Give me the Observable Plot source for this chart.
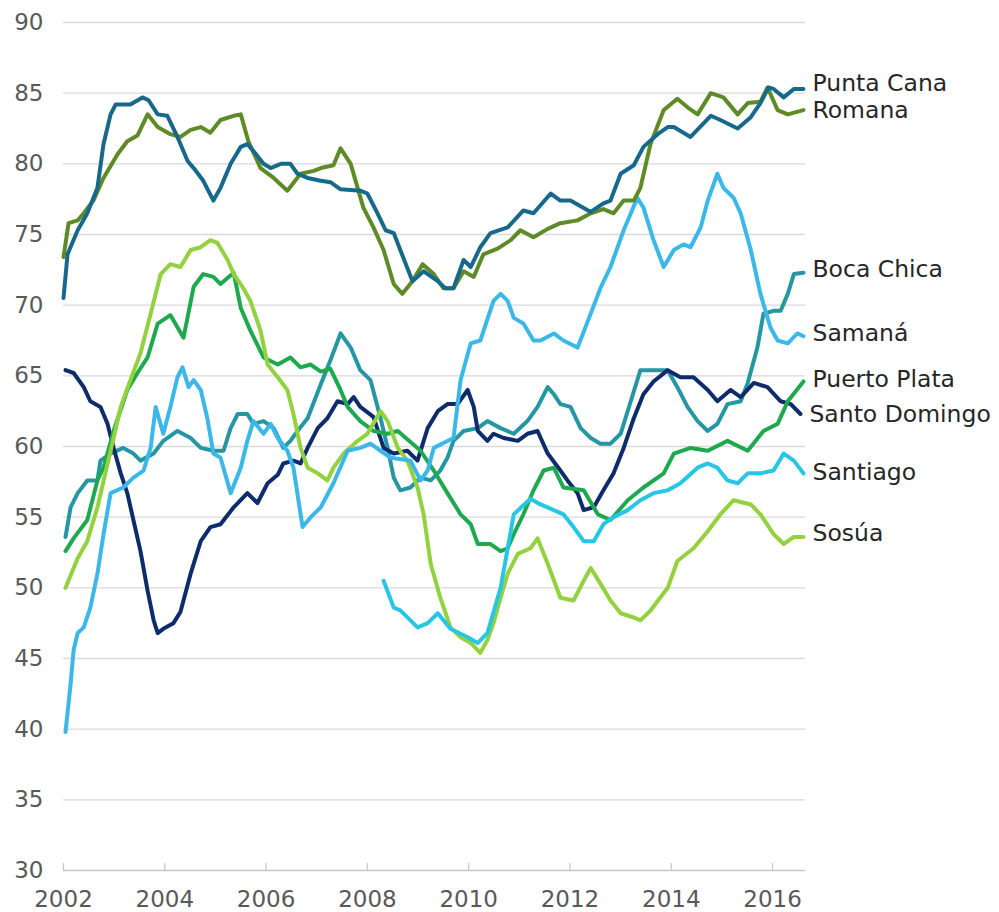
<!DOCTYPE html>
<html>
<head>
<meta charset="utf-8">
<script src="https://cdn.jsdelivr.net/npm/d3@7"></script>
<script src="https://cdn.jsdelivr.net/npm/@observablehq/plot@0.6"></script>
<style>
  html, body { margin: 0; padding: 0; background: #fff; }
  #chart svg { display: block; }
</style>
</head>
<body>
<div id="chart"></div>
<script>
// ---- Data (decimal year, value) ----
const seriesNames = ["Punta Cana","Romana","Boca Chica","Samaná","Puerto Plata","Santo Domingo","Santiago","Sosúa"];
const seriesColors = ["#17698c","#5e8b26","#2597a3","#3bb7ea","#1fa94f","#0e2c6b","#27c6e4","#93d13e"];

const puntaCanaT = [2002.0,2002.08,2002.28,2002.47,2002.67,2002.79,2002.93,2003.03,2003.32,2003.56,2003.68,2003.86,2004.05,2004.25,2004.45,2004.57,2004.76,2004.96,2005.1,2005.3,2005.5,2005.63,2005.75,2005.95,2006.09,2006.29,2006.48,2006.62,2006.82,2007.08,2007.27,2007.47,2007.86,2008.0,2008.2,2008.36,2008.52,2008.65,2008.89,2009.11,2009.39,2009.54,2009.7,2009.9,2010.04,2010.23,2010.43,2010.77,2011.08,2011.28,2011.62,2011.81,2012.01,2012.41,2012.66,2012.8,2013.0,2013.26,2013.45,2013.73,2013.93,2014.05,2014.38,2014.78,2014.97,2015.31,2015.57,2015.76,2015.92,2016.02,2016.22,2016.42,2016.61];
const puntaCanaV = [70.5,73.6,75.3,76.5,78.3,81.4,83.5,84.2,84.2,84.7,84.5,83.5,83.4,81.9,80.2,79.7,78.8,77.4,78.3,80,81.2,81.4,80.9,80,79.7,80,80,79.3,79,78.8,78.7,78.2,78.1,77.9,76.5,75.3,75.1,73.9,71.7,72.4,71.7,71.2,71.2,73.2,72.7,74.1,75.1,75.5,76.7,76.5,77.9,77.4,77.4,76.6,77.2,77.4,79.3,79.9,81.2,82.1,82.6,82.6,81.9,83.4,83.1,82.5,83.3,84.3,85.4,85.3,84.7,85.3,85.3];

const romanaT = [2002.0,2002.1,2002.28,2002.4,2002.59,2002.79,2003.07,2003.26,2003.46,2003.66,2003.86,2004.11,2004.31,2004.51,2004.71,2004.9,2005.1,2005.36,2005.5,2005.65,2005.89,2006.15,2006.42,2006.68,2006.94,2007.08,2007.33,2007.47,2007.67,2007.92,2008.12,2008.32,2008.52,2008.69,2008.89,2009.09,2009.31,2009.5,2009.7,2009.9,2010.1,2010.29,2010.57,2010.83,2011.02,2011.28,2011.56,2011.81,2012.15,2012.41,2012.66,2012.86,2013.06,2013.26,2013.39,2013.59,2013.85,2014.12,2014.32,2014.52,2014.78,2015.03,2015.31,2015.51,2015.76,2015.9,2016.1,2016.3,2016.61];
const romanaV = [73.4,75.8,76,76.5,77.4,79,80.7,81.6,82,83.5,82.6,82.1,81.9,82.4,82.6,82.2,83.1,83.4,83.5,81.6,79.7,79,78.1,79.3,79.5,79.7,79.9,81.1,80,76.9,75.5,73.9,71.5,70.8,71.7,72.9,72.2,71.2,71.2,72.4,72,73.6,74,74.6,75.3,74.8,75.4,75.8,76,76.5,76.8,76.5,77.4,77.4,78.3,81.4,83.8,84.6,84,83.5,85,84.7,83.5,84.3,84.4,85.4,83.8,83.5,83.8];

const bocaChicaT = [2002.04,2002.14,2002.28,2002.47,2002.67,2002.73,2002.93,2003.18,2003.38,2003.52,2003.78,2003.97,2004.25,2004.51,2004.71,2004.96,2005.16,2005.3,2005.44,2005.63,2005.75,2005.95,2006.15,2006.34,2006.48,2006.62,2006.82,2007.08,2007.27,2007.47,2007.67,2007.86,2008.06,2008.26,2008.4,2008.52,2008.65,2008.85,2009.05,2009.25,2009.44,2009.58,2009.7,2009.9,2010.18,2010.37,2010.63,2010.89,2011.16,2011.36,2011.56,2011.68,2011.81,2012.01,2012.21,2012.41,2012.6,2012.8,2013.0,2013.2,2013.39,2013.65,2013.93,2014.12,2014.32,2014.52,2014.72,2014.91,2015.11,2015.37,2015.51,2015.7,2015.82,2016.02,2016.16,2016.3,2016.42,2016.61];
const bocaChicaV = [53.6,55.7,56.7,57.6,57.6,59,59.5,59.9,59.5,59,59.5,60.4,61.1,60.6,59.9,59.7,59.7,61.3,62.3,62.3,61.6,61.8,61.3,59.9,60.4,61.1,62,64.4,66.1,68,67,65.4,64.7,62,59.9,57.8,56.9,57.1,57.8,57.6,58.3,59.2,60.4,61.1,61.3,61.8,61.3,60.9,61.8,62.8,64.2,63.7,63,62.8,61.3,60.6,60.2,60.2,60.9,63.2,65.4,65.4,65.4,64.2,62.8,61.8,61.1,61.6,63,63.2,64.5,67,69.4,69.6,69.6,70.8,72.2,72.3];

const samanaT = [2002.04,2002.14,2002.2,2002.28,2002.4,2002.53,2002.67,2002.79,2002.93,2003.18,2003.38,2003.58,2003.72,2003.82,2003.97,2004.11,2004.25,2004.35,2004.47,2004.57,2004.71,2004.84,2004.96,2005.1,2005.3,2005.5,2005.63,2005.75,2005.95,2006.09,2006.23,2006.42,2006.54,2006.72,2006.88,2007.08,2007.33,2007.61,2007.86,2008.06,2008.26,2008.46,2008.85,2009.05,2009.19,2009.31,2009.7,2009.84,2010.04,2010.23,2010.49,2010.63,2010.77,2010.89,2011.08,2011.28,2011.42,2011.68,2011.87,2012.15,2012.41,2012.6,2012.8,2013.06,2013.33,2013.45,2013.65,2013.85,2014.05,2014.24,2014.38,2014.58,2014.72,2014.91,2015.03,2015.23,2015.37,2015.57,2015.76,2015.96,2016.1,2016.3,2016.49,2016.61];
const samanaV = [39.8,43.2,45.6,46.8,47.2,48.6,51,53.8,56.7,57.1,57.8,58.3,59.9,62.8,60.9,62.8,64.9,65.6,64.2,64.7,64,62,59.5,59.2,56.7,58.5,60.4,61.8,60.9,61.6,60.6,59.7,58.5,54.3,55,55.7,57.4,59.7,59.9,60.2,59.7,59.2,59,57.6,58.3,59.9,60.6,64.7,67.3,67.5,70.3,70.8,70.3,69.1,68.7,67.5,67.5,68,67.5,67,69.4,71.2,72.7,75.3,77.6,76.9,74.6,72.7,73.9,74.3,74.1,75.5,77.4,79.3,78.3,77.6,76.5,73.9,70.8,68.4,67.5,67.3,68,67.8];

const puertoPlataT = [2002.04,2002.2,2002.47,2002.67,2002.79,2002.99,2003.26,2003.46,2003.66,2003.86,2004.11,2004.37,2004.57,2004.76,2004.96,2005.1,2005.36,2005.5,2005.69,2005.95,2006.23,2006.48,2006.68,2006.88,2007.08,2007.27,2007.47,2007.61,2007.86,2008.12,2008.4,2008.6,2009.05,2009.31,2009.58,2009.84,2010.04,2010.18,2010.43,2010.63,2010.77,2010.89,2011.08,2011.28,2011.48,2011.68,2011.87,2012.27,2012.55,2012.8,2013.14,2013.45,2013.85,2014.05,2014.38,2014.72,2015.11,2015.51,2015.82,2016.1,2016.3,2016.61];
const puertoPlataV = [52.6,53.5,54.8,57.6,58.5,61.1,64,65.2,66.3,68.7,69.3,67.7,71.3,72.2,72,71.5,72.3,69.8,68.2,66.3,65.8,66.3,65.6,65.8,65.3,65.5,64,62.8,61.8,61.1,60.9,61.1,59.7,58.3,56.7,55.2,54.5,53.1,53.1,52.6,52.8,53.8,55.2,56.9,58.3,58.5,57.1,56.9,55.2,54.8,56.2,57.1,58.1,59.5,59.9,59.7,60.4,59.7,61.1,61.6,63.2,64.6];

const santoDomingoT = [2002.04,2002.2,2002.4,2002.53,2002.73,2002.87,2002.99,2003.13,2003.26,2003.38,2003.52,2003.66,2003.78,2003.86,2003.97,2004.17,2004.31,2004.51,2004.71,2004.9,2005.1,2005.36,2005.63,2005.83,2006.03,2006.23,2006.34,2006.54,2006.68,2006.82,2007.02,2007.21,2007.41,2007.61,2007.73,2007.86,2008.12,2008.32,2008.52,2008.79,2008.99,2009.19,2009.39,2009.58,2009.78,2009.98,2010.1,2010.18,2010.37,2010.49,2010.69,2010.97,2011.16,2011.36,2011.56,2011.81,2011.95,2012.15,2012.27,2012.47,2012.66,2012.86,2013.06,2013.26,2013.45,2013.65,2013.93,2014.18,2014.44,2014.72,2014.91,2015.17,2015.37,2015.63,2015.9,2016.16,2016.36,2016.55];
const santoDomingoV = [65.4,65.2,64.2,63.2,62.8,61.6,59.9,58.1,56.7,54.8,52.6,49.8,47.7,46.8,47.1,47.5,48.3,51,53.3,54.3,54.5,55.7,56.7,56,57.4,58,58.8,59,58.8,59.9,61.3,62,63.2,63,63.5,62.8,62.1,59.9,59.5,59.7,59,61.3,62.5,63,63,64,62.8,61.1,60.4,60.9,60.6,60.4,60.9,61.1,59.5,58.3,57.6,56.7,55.5,55.7,56.9,58.1,59.9,62,63.7,64.6,65.4,64.9,64.9,64,63.2,64,63.5,64.5,64.2,63.2,63,62.3];

const santiagoT = [2008.32,2008.52,2008.65,2008.99,2009.19,2009.39,2009.64,2009.98,2010.18,2010.37,2010.63,2010.89,2011.22,2011.42,2011.68,2011.87,2012.07,2012.27,2012.47,2012.66,2012.86,2013.14,2013.39,2013.65,2013.93,2014.18,2014.52,2014.72,2014.91,2015.11,2015.31,2015.51,2015.76,2016.02,2016.22,2016.42,2016.61];
const santiagoV = [50.5,48.6,48.4,47.2,47.5,48.2,47.1,46.5,46.1,46.8,50,55.2,56.3,55.9,55.5,55.2,54.3,53.3,53.3,54.5,55,55.5,56.2,56.7,56.9,57.4,58.5,58.8,58.5,57.6,57.4,58.1,58.1,58.3,59.5,59,58.1];

const sosuaT = [2002.04,2002.28,2002.47,2002.67,2002.93,2003.13,2003.32,2003.52,2003.72,2003.92,2004.11,2004.31,2004.51,2004.71,2004.9,2005.04,2005.24,2005.36,2005.55,2005.69,2005.89,2006.03,2006.23,2006.42,2006.54,2006.68,2006.82,2007.02,2007.21,2007.33,2007.53,2007.81,2008.0,2008.26,2008.4,2008.6,2008.79,2008.99,2009.11,2009.25,2009.44,2009.64,2009.84,2010.04,2010.23,2010.37,2010.49,2010.63,2010.77,2010.97,2011.22,2011.36,2011.56,2011.81,2012.07,2012.27,2012.41,2012.6,2012.8,2013.0,2013.26,2013.39,2013.59,2013.93,2014.12,2014.44,2014.72,2014.97,2015.23,2015.57,2015.76,2016.02,2016.22,2016.42,2016.61];
const sosuaV = [50,52.1,53.3,55.7,59.7,62.8,64.7,66.6,69.4,72.2,72.9,72.7,73.9,74.1,74.6,74.4,73.2,72.2,71.2,70.3,68.2,65.8,64.9,64,62.3,59.9,58.5,58.1,57.6,58.5,59.5,60.4,60.9,62.5,61.8,59.9,59,57.1,55.2,51.7,49.3,47.2,46.5,46.1,45.4,46.3,47.5,49.3,51,52.4,52.8,53.5,51.7,49.3,49.1,50.5,51.4,50.3,49.1,48.2,47.9,47.7,48.4,50,51.9,52.8,54,55.2,56.2,55.9,55.2,53.8,53.1,53.6,53.6];

const yTicks = [30,35,40,45,50,55,60,65,70,75,80,85,90];
const xTicks = [2002,2004,2006,2008,2010,2012,2014,2016];
const xDomain = [2002, 2016.65];

// ---- Build long table ----
const seriesData = [
  [puntaCanaT, puntaCanaV], [romanaT, romanaV], [bocaChicaT, bocaChicaV], [samanaT, samanaV],
  [puertoPlataT, puertoPlataV], [santoDomingoT, santoDomingoV], [santiagoT, santiagoV], [sosuaT, sosuaV]
];
const rows = [];
seriesData.forEach(([T, V], i) => T.forEach((t, j) => rows.push({series: seriesNames[i], t, v: V[j]})));
const drawOrder = ["Boca Chica","Santo Domingo","Puerto Plata","Sosúa","Santiago","Samaná","Romana","Punta Cana"];
const lastPts = seriesData.map(([T, V], i) => ({series: seriesNames[i], t: T[T.length-1], v: V[V.length-1]}));
const labelDy = {"Punta Cana": -5, "Romana": 0, "Boca Chica": -3, "Samaná": -3, "Puerto Plata": -2, "Santo Domingo": 0, "Santiago": -1, "Sosúa": -3};

const font = "DejaVu Sans, Verdana, sans-serif";
const chart = Plot.plot({
  width: 999,
  height: 912,
  marginLeft: 63,
  marginRight: 194,
  marginTop: 22,
  marginBottom: 42,
  style: {fontFamily: font, background: "#fff"},
  x: {type: "linear", domain: xDomain, label: null},
  y: {domain: [30, 90], label: null},
  color: {domain: seriesNames, range: seriesColors},
  marks: [
    Plot.gridY(yTicks.filter(d => d > 30), {stroke: "#d9d9d9", strokeOpacity: 1, strokeWidth: 1.3}),
    Plot.ruleY([30], {stroke: "#c8c8c8", strokeWidth: 1.3}),
    Plot.ruleX(xTicks, {y1: 30, y2: 30, insetTop: -7, stroke: "#c8c8c8", strokeWidth: 1.3}),
    Plot.axisY(yTicks, {tickSize: 0, tickPadding: 20, fontSize: 23, fill: "#595959", label: null}),
    Plot.axisX(xTicks, {tickSize: 0, tickPadding: 20, fontSize: 23, fill: "#595959", label: null, tickFormat: d => String(d)}),
    ...drawOrder.map(name => Plot.line(rows.filter(r => r.series === name), {
      x: "t", y: "v", stroke: "series", strokeWidth: 4, strokeLinejoin: "round", strokeLinecap: "round"
    })),
    ...lastPts.map(p => Plot.text([p], {
      x: "t", y: "v", text: "series", textAnchor: "start", dx: 9, dy: labelDy[p.series],
      fontSize: 23.5, fill: "#262626"
    }))
  ]
});
document.getElementById("chart").appendChild(chart);
</script>
</body>
</html>
